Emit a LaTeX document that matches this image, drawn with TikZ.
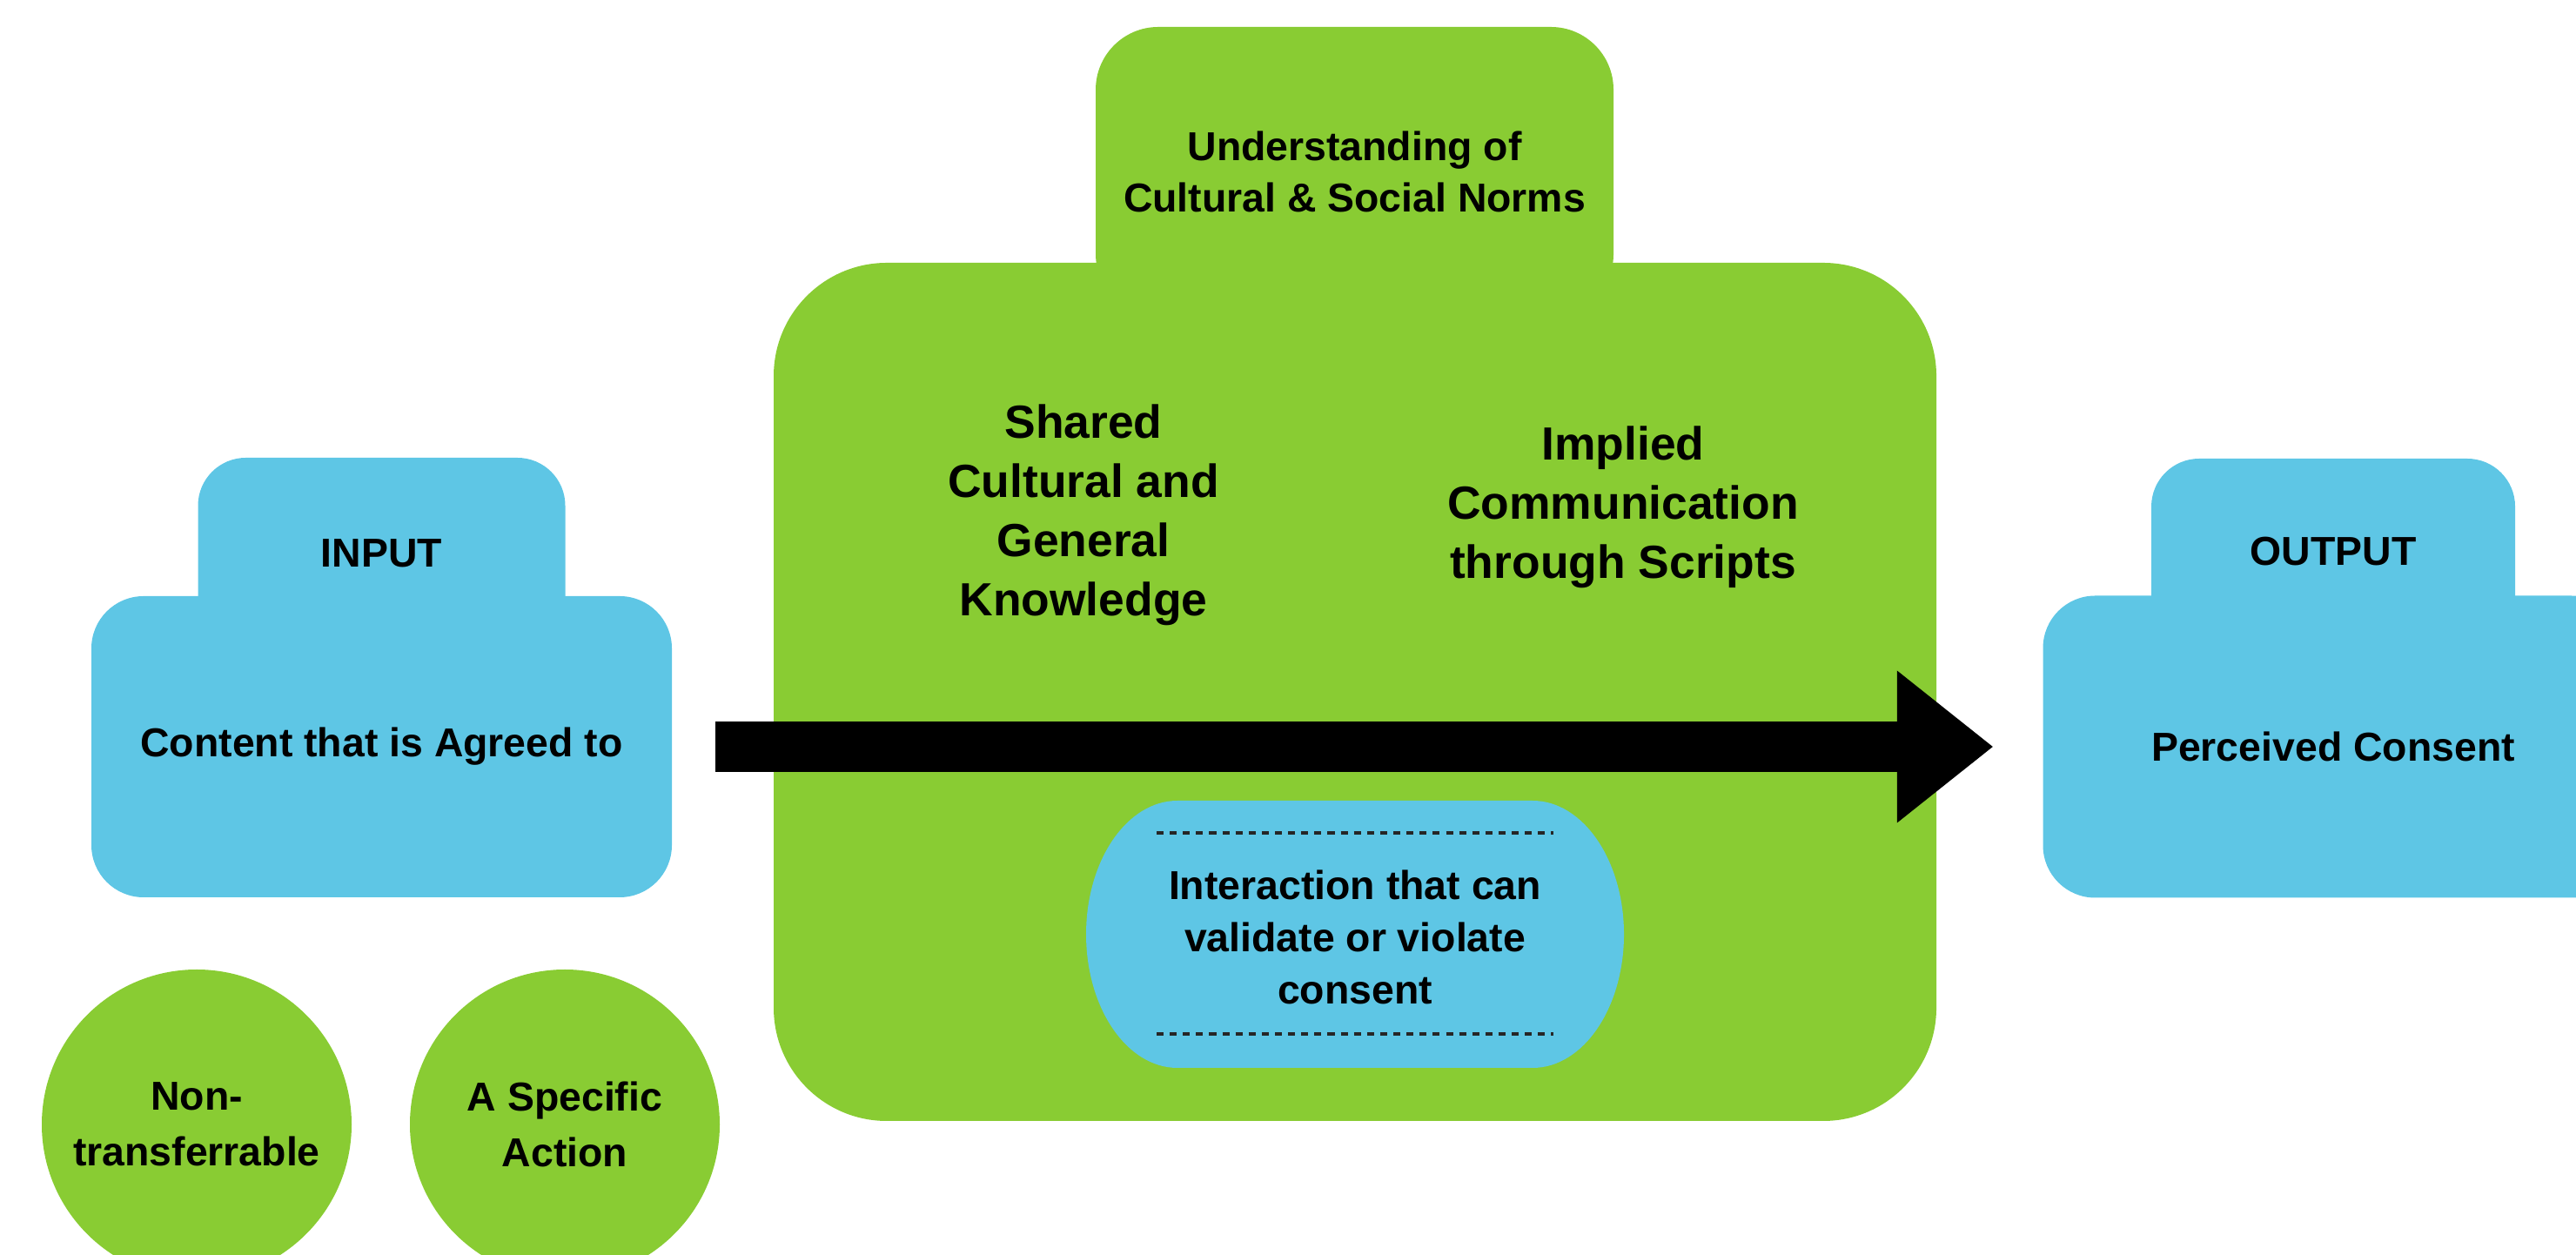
\documentclass[tikz,border=0pt]{standalone}
\usepackage{fontspec}
\setmainfont{Liberation Sans}
\usepackage{tikz}
\usetikzlibrary{arrows.meta}
\definecolor{leaf}{RGB}{137,204,51}
\definecolor{sky}{RGB}{94,198,229}

\begin{document}
\begin{tikzpicture}
\tikzstyle{every node}+=[inner sep=0pt, align=center, text=black]
\tikzstyle{leafbox}=[rectangle, fill=leaf]
\tikzstyle{skybox}=[rectangle, fill=sky]
\tikzstyle{smalltext}=[font=\fontsize{13.2}{16.8}\selectfont\bfseries]
\tikzstyle{bigtext}=[font=\fontsize{15.2}{19.3}\selectfont\bfseries]
\tikzstyle{dotline}=[line width=1.1pt, dash pattern=on 2.3pt off 2pt, black!85]
\useasboundingbox (0,0) rectangle (29.6,14.41);
\clip (0,0) rectangle (29.6,14.41);
\node [leafbox, minimum width=5.95cm, minimum height=3.33cm, rounded corners=0.72cm, smalltext] (normtab) at (15.565,12.435) {Understanding of\\Cultural \& Social Norms};
\node [leafbox, minimum width=13.36cm, minimum height=9.86cm, rounded corners=1.3cm] (ctxbody) at (15.57,6.46) {};
\node [bigtext] (shared) at (12.45,8.49) {Shared\\Cultural and\\General\\Knowledge};
\node [bigtext] (implied) at (18.65,8.585) {Implied\\Communication\\through Scripts};
\fill [sky] (13.53,5.21) -- (17.61,5.21) arc[start angle=90, end angle=-90, x radius=1.05, y radius=1.535] -- (13.53,2.14) arc[start angle=270, end angle=90, x radius=1.05, y radius=1.535] -- cycle;
\draw [dotline] (13.29,4.84) -- (17.85,4.84);
\draw [dotline] (13.29,2.53) -- (17.85,2.53);
\node [smalltext, font=\fontsize{13.2}{17}\selectfont\bfseries] (interact) at (15.57,3.64) {Interaction that can\\validate or violate\\consent};
\node [skybox, minimum width=4.22cm, minimum height=2.2cm, rounded corners=0.55cm, smalltext] (intab) at (4.385,8.05) {INPUT};
\node [skybox, minimum width=6.67cm, minimum height=3.46cm, rounded corners=0.6cm, smalltext] (inbody) at (4.385,5.83) {Content that is Agreed to};
\node [skybox, minimum width=4.18cm, minimum height=2.14cm, rounded corners=0.55cm, smalltext] (outtab) at (26.81,8.07) {OUTPUT};
\node [skybox, minimum width=6.67cm, minimum height=3.47cm, rounded corners=0.6cm, smalltext] (outbody) at (26.81,5.83) {Perceived Consent};
\draw [line width=0.58cm, -{Triangle[length=1.1cm, width=1.75cm, line width=0pt]}, shorten <=0.49cm, shorten >=0.57cm] (inbody) -- (outbody);
\node [leafbox, circle, minimum size=3.56cm, font=\fontsize{13.2}{18.2}\selectfont\bfseries] (nontrans) at (2.26,1.49) {Non-\\transferrable};
\node [leafbox, circle, minimum size=3.56cm, font=\fontsize{13.2}{18.2}\selectfont\bfseries] (specific) at (6.49,1.49) {A Specific\\Action};
\end{tikzpicture}
\end{document}
